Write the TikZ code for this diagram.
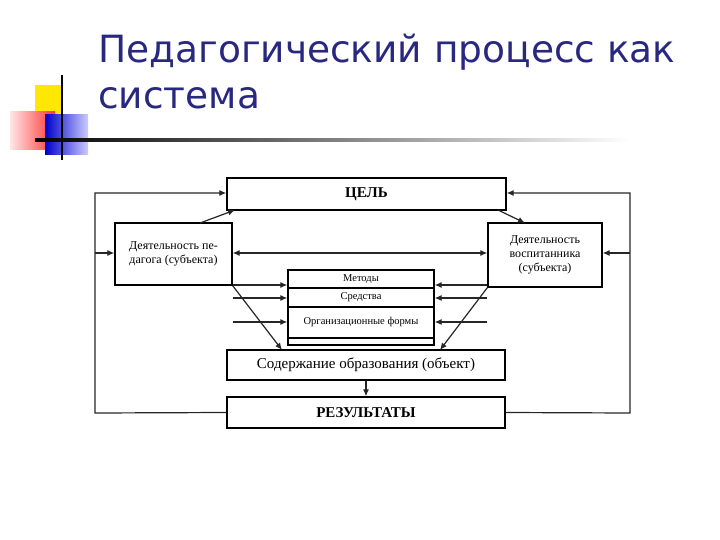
\documentclass[tikz,border=0pt]{standalone}
\usepackage{fontspec}
\setmainfont{Liberation Serif}
\newfontfamily\titlefont{DejaVu Sans}
\usetikzlibrary{arrows.meta}
\definecolor{titleblue}{RGB}{40,40,128}
\begin{document}
\begin{tikzpicture}[x=1pt,y=-1pt,
  bx/.style={draw,line width=1.3pt,inner sep=0pt},
  ln/.style={line width=1.2pt,draw=black!85},
  ar/.style={ln,-{Latex[length=7pt,width=6pt]}},
  lbl/.style={font=\fontsize{12}{14}\selectfont}]
\useasboundingbox (0,0) rectangle (720,540);
% decoration
\fill[yellow!90!orange] (35,85) rectangle (62,115);
\shade[left color=red!10,right color=red!80] (10,112) rectangle (55,150);
\shade[left color=blue!80!black,right color=blue!20] (45,115) rectangle (88,155);
\draw[line width=1.2pt] (62,75) -- (62,160);
\shade[left color=black,right color=white] (35,139) rectangle (630,141.5);
% title
\node[anchor=north west,align=left,text=titleblue,inner sep=0pt,font=\titlefont\fontsize{37.5}{46}\selectfont] (title) at (98,34) {Педагогический процесс как\\система};
% boxes
\node[bx,minimum width=279pt,minimum height=32pt,font=\bfseries\fontsize{15}{16}\selectfont] (goal) at (366.5,194) {ЦЕЛЬ};
\node[bx,minimum width=117pt,minimum height=62pt,align=center,lbl] (ped) at (173.5,254) {Деятельность пе-\\дагога (субъекта)};
\node[bx,minimum width=114pt,minimum height=64pt,align=center,lbl] (pup) at (545,255) {Деятельность\\воспитанника\\(субъекта)};
\node[bx,minimum width=146pt,minimum height=75pt] (mid) at (361,307.5) {};
\draw[line width=1.2pt] (288,288) -- (434,288) (288,307) -- (434,307) (288,338) -- (434,338);
\node[font=\fontsize{10.5}{11}\selectfont] (m1) at (361,279) {Методы};
\node[font=\fontsize{10.5}{11}\selectfont] (m2) at (361,297.5) {Средства};
\node[font=\fontsize{10.5}{11}\selectfont] (m3) at (361,322) {Организационные формы};
\node[bx,minimum width=278pt,minimum height=30pt,font=\fontsize{15}{16}\selectfont] (cont) at (366,365) {Содержание образования (объект)};
\node[bx,minimum width=278pt,minimum height=31pt,font=\bfseries\fontsize{15}{16}\selectfont] (res) at (366,412.5) {РЕЗУЛЬТАТЫ};
% feedback loops
\coordinate (l1) at (95,413); \coordinate (l2) at (95,193);
\coordinate (r1) at (630,413); \coordinate (r2) at (630,193);
\draw[ar] (res.west) -- (l1) -- (l2) -- (goal.west |- l2);
\draw[ar] (res.east) -- (r1) -- (r2) -- (goal.east |- r2);
\draw[ar] (95,253) -- (ped.west |- 0,253);
\draw[ar] (630,253) -- (pup.east |- 0,253);
% goal links
\draw[ar] (200,223) -- (235,210);
\draw[ar] (498,210) -- (525,223);
\draw[ln,{Latex[length=7pt,width=6pt]}-{Latex[length=7pt,width=6pt]}] (ped.east |- 0,253) -- (pup.west |- 0,253);
% to mid rows
\foreach \y in {285,298,322}{
  \draw[ar] (ped.east |- 0,\y) -- (mid.west |- 0,\y);
  \draw[ar] (pup.west |- 0,\y) -- (mid.east |- 0,\y);
}
% trapezoid
\draw[ar] (ped.south east) -- (282,350);
\draw[ar] (pup.south west) -- (440,350);
\draw[ar] (cont.south) -- (res.north);
\end{tikzpicture}
\end{document}
